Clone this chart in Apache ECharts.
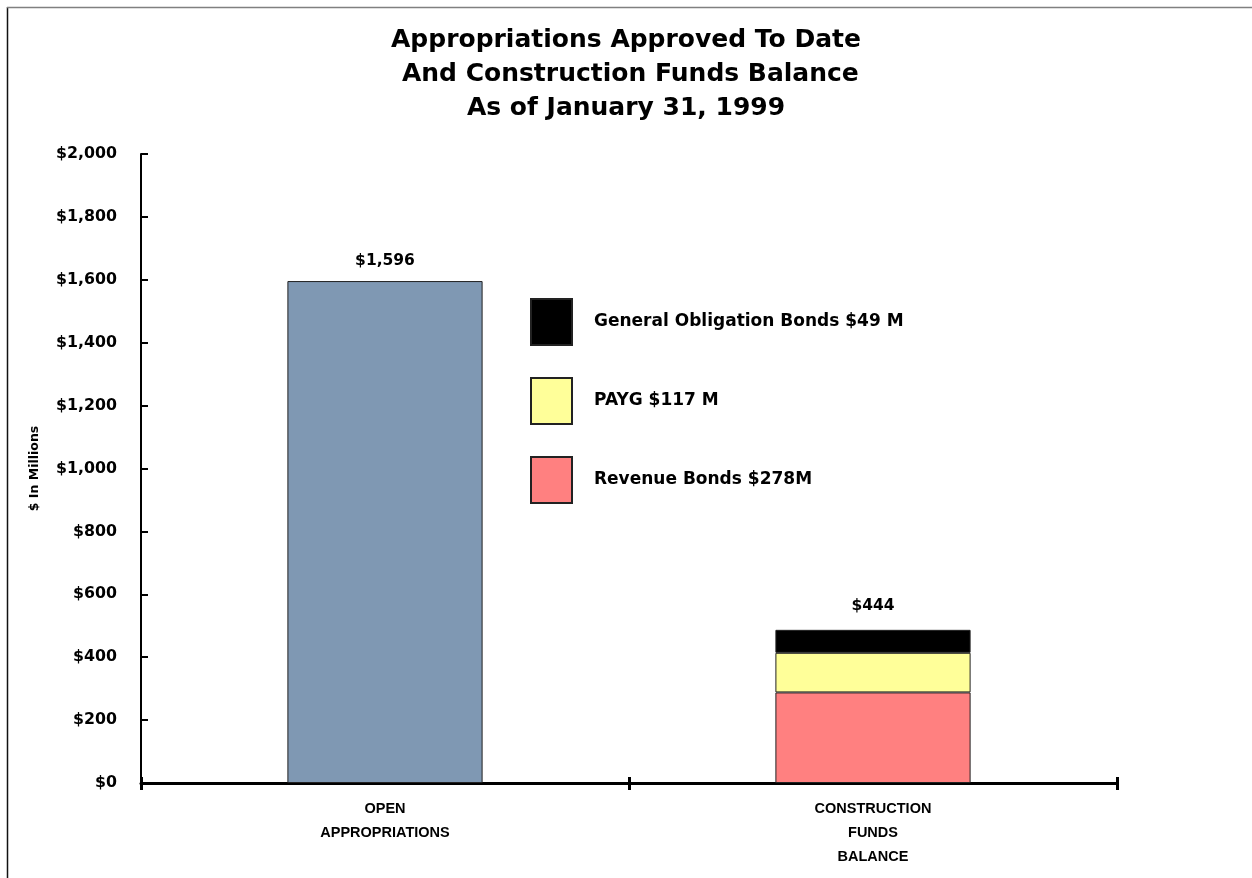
<!DOCTYPE html>
<html>
<head>
<meta charset="utf-8">
<script src="https://cdn.jsdelivr.net/npm/echarts@6/dist/echarts.min.js"></script>
<style>html,body{margin:0;padding:0;background:#fff}#c{width:1252px;height:878px}</style>
</head>
<body>
<div id="c"></div>
<script>
// ---- data ----
var titleText = 'Appropriations Approved To Date\n And Construction Funds Balance\nAs of January 31, 1999';
var categories = ['OPEN\nAPPROPRIATIONS', 'CONSTRUCTION\nFUNDS\nBALANCE'];
var openAppropriations = [1596, null];
// drawn heights of the stacked segments
var revenueBonds = [null, 288];
var payg = [null, 126];
var goBonds = [null, 73];
// amounts shown in the legend text
var legendNames = ['General Obligation Bonds $49 M', 'PAYG $117 M', 'Revenue Bonds $278M'];
var barLabels = ['$1,596', '$444'];
var yTicks = [0, 200, 400, 600, 800, 1000, 1200, 1400, 1600, 1800, 2000];

var FONT = '"DejaVu Sans", Verdana, sans-serif';
var NARROW = '"Liberation Sans", Arial, sans-serif';
function fmt(v){ return '$' + v.toString().replace(/\B(?=(\d{3})+(?!\d))/g, ','); }

var chart = echarts.init(document.getElementById('c'));
var barW = '40%';
var border = {borderColor: '#222', borderWidth: 1};
chart.setOption({
  animation: false,
  backgroundColor: '#fff',
  title: {
    text: titleText, left: 'center', top: 18,
    textStyle: {fontFamily: FONT, fontSize: 25, fontWeight: 'bold', color: '#000', lineHeight: 34}
  },
  legend: {
    orient: 'vertical', left: 530, top: 298, padding: 0, itemWidth: 41, itemHeight: 46, itemGap: 31,
    icon: 'rect',
    data: legendNames, selectedMode: false,
    textStyle: {fontFamily: FONT, fontSize: 17, fontWeight: 'bold', color: '#000', padding: [0,0,0,17]}
  },
  grid: {left: 141, right: 135, top: 154, bottom: 95},
  xAxis: [{
    type: 'category', data: categories,
    axisLine: {lineStyle: {color: '#000', width: 3}},
    axisTick: {show: true, length: 7, interval: 0, lineStyle: {color: '#000', width: 3}},
    axisLabel: {fontFamily: NARROW, fontSize: 14.5, fontWeight: 'bold', color: '#000', lineHeight: 24, margin: 14, interval: 0}
  }, {
    type: 'category', data: categories, position: 'bottom',
    axisLine: {show: false},
    axisTick: {show: true, inside: true, length: 6, interval: 0, lineStyle: {color: '#000', width: 3}},
    axisLabel: {show: false}
  }],
  yAxis: {
    type: 'value', min: yTicks[0], max: yTicks[yTicks.length-1], interval: 200,
    name: '$ In Millions', nameLocation: 'middle', nameGap: 100,
    nameTextStyle: {fontFamily: FONT, fontSize: 12.5, fontWeight: 'bold', color: '#000'},
    axisLine: {show: true, lineStyle: {color: '#000', width: 2}},
    axisTick: {show: true, inside: true, length: 7, lineStyle: {color: '#000', width: 2}},
    splitLine: {show: false},
    axisLabel: {fontFamily: FONT, fontSize: 15.8, fontWeight: 'bold', color: '#000', margin: 24, formatter: fmt}
  },
  series: [{
    name: 'open', type: 'bar', stack: 'a', barWidth: barW, data: openAppropriations,
    itemStyle: Object.assign({color: '#7F98B3'}, border),
    label: {show: true, position: 'top', distance: 12, fontFamily: FONT, fontSize: 15.5, fontWeight: 'bold', color: '#000',
      formatter: function(p){ return barLabels[p.dataIndex]; }}
  }, {
    name: legendNames[2], type: 'bar', stack: 'a', barWidth: barW, data: revenueBonds,
    itemStyle: Object.assign({color: '#FF8080'}, border)
  }, {
    name: legendNames[1], type: 'bar', stack: 'a', barWidth: barW, data: payg,
    itemStyle: Object.assign({color: '#FFFF99'}, border)
  }, {
    name: legendNames[0], type: 'bar', stack: 'a', barWidth: barW, data: goBonds,
    itemStyle: Object.assign({color: '#000000'}, border),
    label: {show: true, position: 'top', distance: 16, fontFamily: FONT, fontSize: 15.5, fontWeight: 'bold', color: '#000',
      formatter: function(p){ return barLabels[p.dataIndex]; }}
  }],
  graphic: [
    {type: 'line', shape: {x1: 7.5, y1: 7, x2: 7.5, y2: 878}, style: {stroke: '#111', lineWidth: 1.5}},
    {type: 'line', shape: {x1: 7, y1: 7.5, x2: 1252, y2: 7.5}, style: {stroke: '#808080', lineWidth: 1.5}}
  ]
});
</script>
</body>
</html>
